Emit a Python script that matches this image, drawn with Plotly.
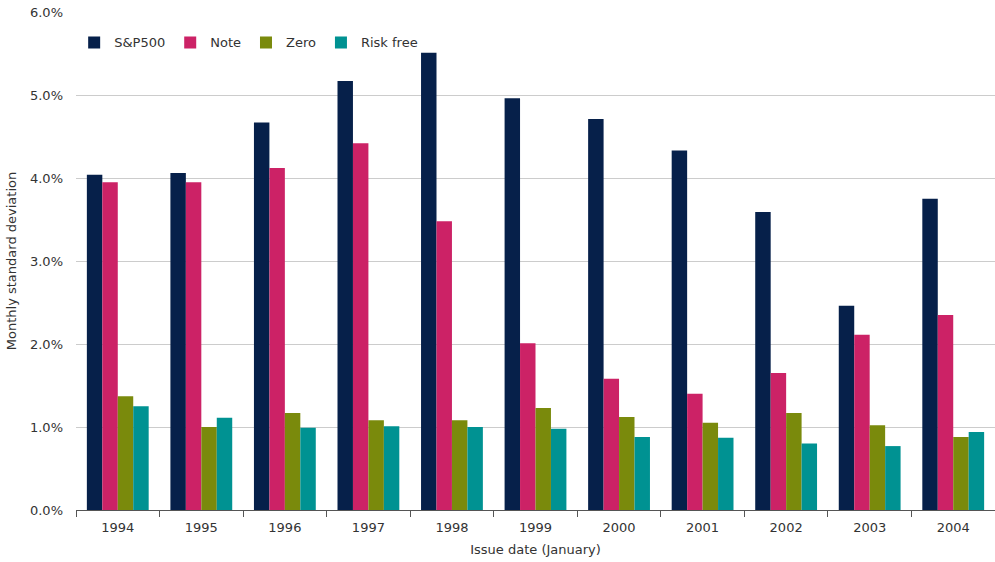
import plotly.graph_objects as go

years = ["1994", "1995", "1996", "1997", "1998", "1999", "2000", "2001", "2002", "2003", "2004"]
sp500 = [4.04, 4.06, 4.67, 5.17, 5.51, 4.96, 4.71, 4.33, 3.59, 2.46, 3.75]
note = [3.95, 3.95, 4.12, 4.42, 3.48, 2.01, 1.58, 1.40, 1.65, 2.11, 2.35]
zero = [1.37, 1.00, 1.17, 1.08, 1.08, 1.23, 1.12, 1.05, 1.17, 1.02, 0.88]
risk_free = [1.25, 1.11, 0.99, 1.01, 1.00, 0.98, 0.88, 0.87, 0.80, 0.77, 0.94]

series = [
    ("S&P500", sp500, "#06204a"),
    ("Note", note, "#cc2266"),
    ("Zero", zero, "#7a8a0c"),
    ("Risk free", risk_free, "#009292"),
]

fig = go.Figure()
for name, vals, color in series:
    fig.add_trace(go.Bar(x=years, y=[v / 100 for v in vals], name=name,
                         marker=dict(color=color, line=dict(width=0))))

font = "Verdana, DejaVu Sans, sans-serif"
fig.update_layout(
    width=995, height=562,
    margin=dict(l=76, r=0, t=12, b=52),
    plot_bgcolor="white", paper_bgcolor="white",
    barmode="group", bargap=0.26, bargroupgap=0,
    font=dict(family=font, size=13, color="#333333"),
    legend=dict(orientation="h", x=-0.002, y=0.969, xanchor="left", yanchor="top",
                font=dict(size=13, color="#333333"), itemwidth=30, tracegroupgap=0,
                bgcolor="rgba(0,0,0,0)"),
    xaxis=dict(title=dict(text="Issue date (January)", font=dict(size=13), standoff=11),
               automargin=False, ticklabelstandoff=5,
               tickson="boundaries", ticks="outside", ticklen=6, tickcolor="#555555",
               showline=True, linecolor="#555555", linewidth=1, showgrid=False),
    yaxis=dict(title=dict(text="Monthly standard deviation", font=dict(size=13), standoff=10),
               automargin=False, ticklabelstandoff=12,
               range=[0, 0.06], dtick=0.01, tickformat=".1%",
               showgrid=True, gridcolor="#cccccc", gridwidth=1, zeroline=False,
               ticks="", showline=False),
)

fig.write_html("out.html", config={"displayModeBar": False},
               post_script="document.body.style.margin='0px';")
